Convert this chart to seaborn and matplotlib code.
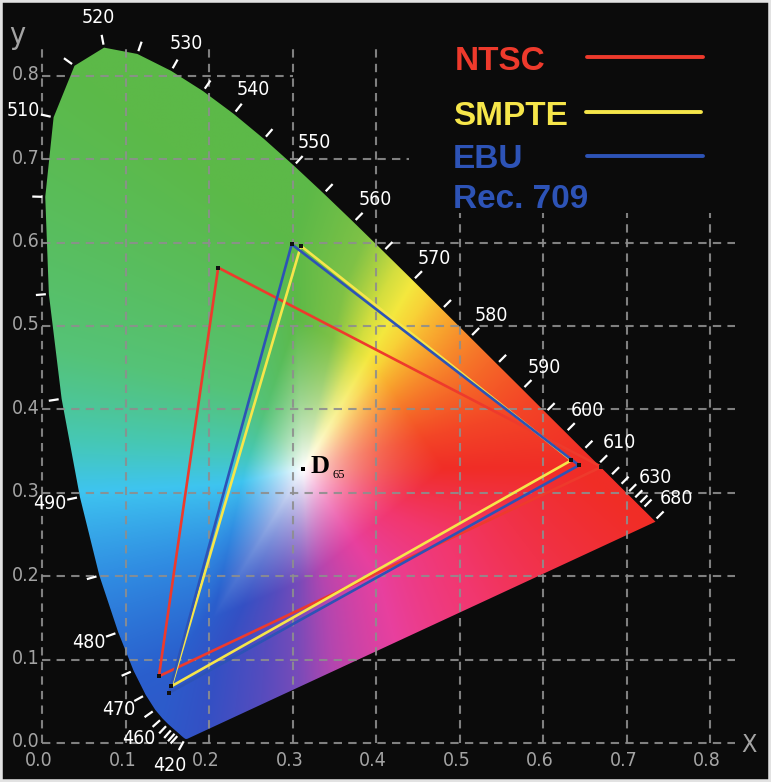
import numpy as np
import pandas as pd
import matplotlib
matplotlib.use("Agg")
import matplotlib.pyplot as plt
import seaborn as sns
from matplotlib.patches import Polygon, Rectangle
from matplotlib.colors import rgb_to_hsv
from matplotlib.lines import Line2D

# ---------------- data ----------------
wavelengths = [380, 385, 390, 395, 400, 405, 410, 415, 420, 425, 430, 435, 440, 445,
               450, 455, 460, 465, 470, 475, 480, 485, 490, 495, 500, 505, 510, 515,
               520, 525, 530, 535, 540, 545, 550, 555, 560, 565, 570, 575, 580, 585,
               590, 595, 600, 605, 610, 615, 620, 625, 630, 635, 640, 645, 650, 655,
               660, 665, 670, 675, 680, 685, 690, 695, 700]
locus_x = [0.1741, 0.1740, 0.1738, 0.1736, 0.1733, 0.1730, 0.1726, 0.1721, 0.1714, 0.1703,
           0.1689, 0.1669, 0.1644, 0.1611, 0.1566, 0.1510, 0.1440, 0.1355, 0.1241, 0.1096,
           0.0913, 0.0687, 0.0454, 0.0235, 0.0082, 0.0039, 0.0139, 0.0389, 0.0743, 0.1142,
           0.1547, 0.1929, 0.2296, 0.2658, 0.3016, 0.3373, 0.3731, 0.4087, 0.4441, 0.4788,
           0.5125, 0.5448, 0.5752, 0.6029, 0.6270, 0.6482, 0.6658, 0.6801, 0.6915, 0.7006,
           0.7079, 0.7140, 0.7190, 0.7230, 0.7260, 0.7283, 0.7300, 0.7311, 0.7320, 0.7327,
           0.7334, 0.7340, 0.7344, 0.7346, 0.7347]
locus_y = [0.0050, 0.0050, 0.0049, 0.0049, 0.0048, 0.0048, 0.0048, 0.0048, 0.0051, 0.0058,
           0.0069, 0.0086, 0.0109, 0.0138, 0.0177, 0.0227, 0.0297, 0.0399, 0.0578, 0.0868,
           0.1327, 0.2007, 0.2950, 0.4127, 0.5384, 0.6548, 0.7502, 0.8120, 0.8338, 0.8262,
           0.8059, 0.7816, 0.7543, 0.7243, 0.6923, 0.6589, 0.6245, 0.5896, 0.5547, 0.5202,
           0.4866, 0.4544, 0.4242, 0.3965, 0.3725, 0.3514, 0.3340, 0.3197, 0.3083, 0.2993,
           0.2920, 0.2859, 0.2809, 0.2770, 0.2740, 0.2717, 0.2700, 0.2689, 0.2680, 0.2673,
           0.2666, 0.2660, 0.2656, 0.2654, 0.2653]

labelled_nm = [420, 460, 470, 480, 490, 510, 520, 530, 540, 550, 560, 570, 580, 590,
               600, 610, 630, 680]
ticked_nm = [420, 440, 445, 450, 455, 460, 465, 470, 475, 480, 485, 490, 495, 500, 505,
             510, 515, 520, 525, 530, 535, 540, 545, 550, 555, 560, 565, 570, 575, 580,
             585, 590, 595, 600, 605, 610, 615, 620, 625, 630, 635, 640, 680]

standards = ["NTSC", "SMPTE", "EBU"]
ntsc_x = [0.670, 0.211, 0.140]
ntsc_y = [0.331, 0.570, 0.080]
smpte_x = [0.634, 0.310, 0.155]
smpte_y = [0.339, 0.596, 0.068]
ebu_x = [0.643, 0.299, 0.152]
ebu_y = [0.333, 0.598, 0.060]

white_x = [0.3127]
white_y = [0.3290]

grid_values = [0.0, 0.1, 0.2, 0.3, 0.4, 0.5, 0.6, 0.7, 0.8]
tick_labels = ["0.0", "0.1", "0.2", "0.3", "0.4", "0.5", "0.6", "0.7", "0.8"]

legend_names = ["NTSC", "SMPTE", "EBU", "Rec. 709"]

# ---------------- style ----------------
BG = "#0b0b0b"
RED = "#ee3a2c"
YELLOW = "#f6e64a"
BLUE = "#2d53b6"
GRID = "#8e8e8e"
LABEL_GREY = "#a4a4a4"

sns.set_style("dark")
plt.rcParams["font.family"] = ["DejaVu Sans"]
NARROW = dict(family="DejaVu Sans", fontstretch="condensed")

fig = plt.figure(figsize=(7.71, 7.82), dpi=100)
fig.patch.set_facecolor(BG)
ax = fig.add_axes([0, 0, 1, 1])
ax.set_facecolor(BG)
PX = 1.0 / 835.0  # data units per pixel

# ---------------- colour fill ----------------
gx = np.linspace(0.0, 0.75, 760)
gy = np.linspace(0.0005, 0.85, 860)
GX, GY = np.meshgrid(gx, gy)
XYZ = np.stack([GX / GY, np.ones_like(GX), (1 - GX - GY) / GY], axis=-1)
M = np.array([[3.2406, -1.5372, -0.4986],
              [-0.9689, 1.8758, 0.0415],
              [0.0557, -0.2040, 1.0570]])
lin = np.clip(XYZ @ M.T, 0, None)
lin = lin / np.maximum(lin.max(axis=-1, keepdims=True), 1e-9)
hsv = rgb_to_hsv(lin)
hue = hsv[..., 0] * 360.0
sat = np.clip(hsv[..., 1] * 1.2, 0, 1) ** 1.1

hue_pts = [0, 10, 20, 35, 50, 62, 75, 95, 120, 150, 170, 188, 213, 235, 255, 275, 292, 310, 330, 345]
pal = np.array([
    (240, 45, 38), (243, 70, 38), (245, 105, 40), (248, 160, 45), (248, 210, 55),
    (244, 232, 62), (212, 222, 62), (128, 194, 70), (92, 185, 72), (85, 195, 120),
    (70, 200, 180), (62, 196, 240), (48, 140, 226), (42, 95, 205), (52, 80, 196),
    (85, 76, 190), (120, 75, 185), (180, 70, 175), (232, 64, 158), (242, 55, 110)]) / 255.0
cols = np.stack([np.interp(hue, hue_pts, pal[:, k], period=360) for k in range(3)], axis=-1)
img = 1.0 - sat[..., None] * (1.0 - cols)
img = np.clip(img, 0, 1)

locus_poly = Polygon(np.column_stack([locus_x, locus_y]), closed=True,
                     transform=ax.transData)
im = ax.imshow(img, extent=(gx[0], gx[-1], gy[0], gy[-1]), origin="lower",
               interpolation="bilinear", zorder=1, aspect="auto")
im.set_clip_path(locus_poly)

# ---------------- grid ----------------
for v in grid_values:
    top = 0.835 if v <= 0.4 else 0.636
    ax.plot([v, v], [0, top], color=GRID, lw=1.5, dashes=(4, 3), alpha=0.9, zorder=2)
    right = 0.83 if v <= 0.6 else (0.44 if v < 0.75 else 0.30)
    ax.plot([0, right], [v, v], color=GRID, lw=1.5, dashes=(4, 3), alpha=0.9, zorder=2)

for v, t in zip(grid_values, tick_labels):
    ax.text(v - 3 * PX, -0.0205, t, color=LABEL_GREY, fontsize=14, **NARROW,
            ha="center", va="center", zorder=5)
    ax.text(-0.003, v + 1 * PX, t, color=LABEL_GREY, fontsize=14, **NARROW,
            ha="right", va="center", zorder=5)
ax.text(0.847, -0.0024, "X", color=LABEL_GREY, fontsize=18, **NARROW,
        ha="center", va="center", zorder=5)
ax.text(-0.030, 0.848, "y", color=LABEL_GREY, fontsize=22, **NARROW,
        ha="center", va="center", zorder=5)

# ---------------- gamut triangles ----------------
rows = []
for name, xs_, ys_ in zip(standards, [ntsc_x, smpte_x, ebu_x], [ntsc_y, smpte_y, ebu_y]):
    for k in range(4):
        rows.append({"standard": name, "order": k, "x": xs_[k % 3], "y": ys_[k % 3]})
tri = pd.DataFrame(rows)
palette = {"NTSC": RED, "SMPTE": YELLOW, "EBU": BLUE}
sns.lineplot(data=tri, x="x", y="y", hue="standard", palette=palette, sort=False,
             estimator=None, linewidth=1.9, legend=False, ax=ax, zorder=3)
verts = tri[tri["order"] < 3]
sns.scatterplot(data=verts, x="x", y="y", color="#111111", marker="s", s=8,
                linewidth=0, legend=False, ax=ax, zorder=4)

# white point D65
sns.scatterplot(x=white_x, y=white_y, color="black", marker="s", s=7, linewidth=0,
                legend=False, ax=ax, zorder=4)
ax.annotate("D", xy=(white_x[0], white_y[0]), xytext=(5.5, -3.5),
            textcoords="offset points", fontsize=19, fontweight="bold",
            family=["Liberation Serif", "DejaVu Serif"], color="black",
            ha="left", va="baseline", zorder=5)
ax.annotate("65", xy=(white_x[0], white_y[0]), xytext=(21.5, -6.5),
            textcoords="offset points", fontsize=9,
            family=["Liberation Serif", "DejaVu Serif"], color="black",
            ha="left", va="baseline", zorder=5)

# ---------------- wavelength ticks and labels ----------------
lx = np.array(locus_x)
ly = np.array(locus_y)


def outward_normal(i):
    t = np.array([lx[i + 1] - lx[i - 1], ly[i + 1] - ly[i - 1]])
    n = np.array([t[1], -t[0]])
    n = n / np.linalg.norm(n)
    if np.dot(n, [lx[i] - white_x[0], ly[i] - white_y[0]]) < 0:
        n = -n
    return n


for nm in ticked_nm:
    i = wavelengths.index(nm)
    n = outward_normal(i)
    p = np.array([lx[i], ly[i]])
    a = p + n * 3 * PX
    b = p + n * 13 * PX
    ax.plot([a[0], b[0]], [a[1], b[1]], color="white", lw=1.6, zorder=4,
            solid_capstyle="butt")

for nm in labelled_nm:
    i = wavelengths.index(nm)
    n = outward_normal(i)
    d = 31 * 0.72
    ax.annotate(str(nm), xy=(lx[i], ly[i]), xytext=(n[0] * d, n[1] * d),
                textcoords="offset points", color="white", fontsize=14,
                **NARROW, ha="center", va="center", zorder=5)

# ---------------- legend (text + swatches) ----------------
W, H = 771.0, 782.0
legend_colors = [RED, YELLOW, BLUE, BLUE]
legend_xy = [(455, 70), (453, 125), (453, 168), (453, 208)]
for name, c, (px, py) in zip(legend_names, legend_colors, legend_xy):
    fig.text(px / W, 1 - py / H, name, color=c, fontsize=24, fontweight="bold",
             family=["Liberation Sans", "DejaVu Sans"], ha="left", va="baseline")
for c, (x0, x1, yy) in zip([RED, YELLOW, BLUE], [(587, 703, 57), (586, 701, 112), (587, 703, 156)]):
    fig.add_artist(Line2D([x0 / W, x1 / W], [1 - yy / H, 1 - yy / H], color=c, lw=2.8,
                          transform=fig.transFigure))

ax.set_xlim(-0.0503, 0.8730)
ax.set_ylim(-0.0468, 0.8909)
ax.axis("off")

fig.add_artist(Rectangle((0, 0), 1, 1, transform=fig.transFigure, fill=False,
                         ec="#e2e2e2", lw=4.0))

fig.savefig("out.png", dpi=100, facecolor=BG)
